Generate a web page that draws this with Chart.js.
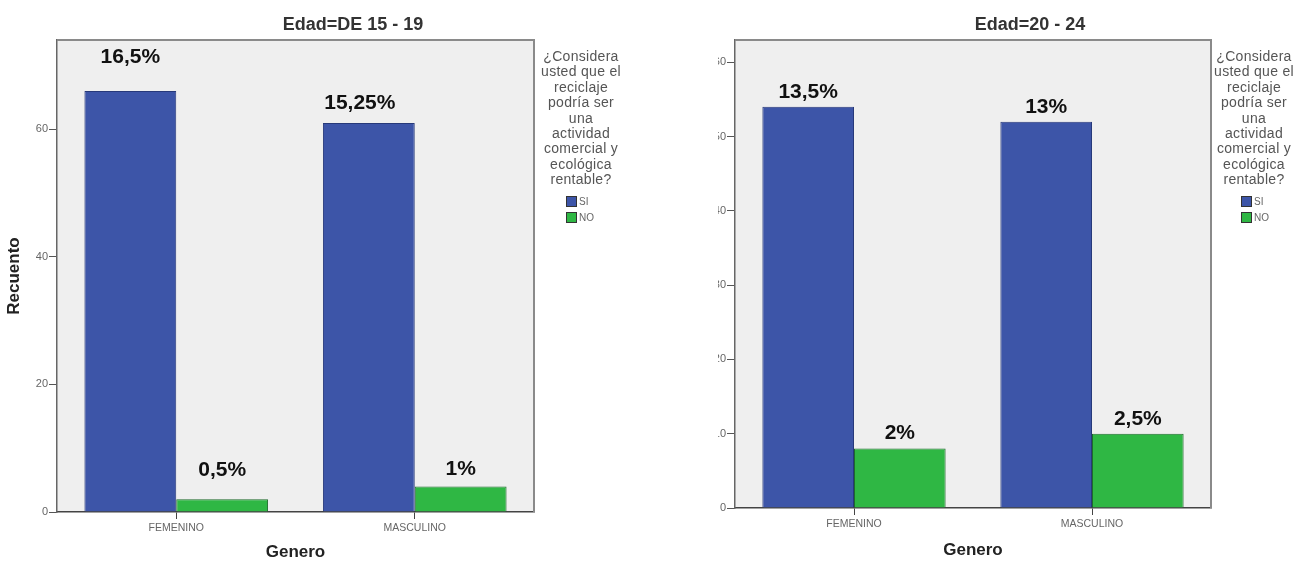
<!DOCTYPE html>
<html>
<head>
<meta charset="utf-8">
<script src="https://cdn.jsdelivr.net/npm/chart.js"></script>
<style>
html, body { margin: 0; padding: 0; background: #fff; width: 1299px; height: 561px; overflow: hidden; font-family: "Liberation Sans", Arial, sans-serif; }
.wrap { position: absolute; top: 0; height: 561px; overflow: hidden; }
.legend { position: absolute; top: 49px; width: 110px; text-align: center; font-size: 14px; line-height: 15.4px; color: #555; letter-spacing: 0.3px; }
.legend .items { margin-top: 6px; text-align: left; }
.legend .item { font-size: 10px; line-height: 16px; height: 16px; display: flex; align-items: center; color: #666; letter-spacing: 0; }
.legend .sw { display: inline-block; width: 9px; height: 9px; margin-right: 2px; border: 1px solid #333; }
</style>
</head>
<body>
<div class="wrap" style="left:0;width:706px;"><canvas id="edad15" width="706" height="561"></canvas></div>
<div class="wrap" style="left:718px;width:581px;"><canvas id="edad20" width="648" height="561" style="position:relative;left:-12px;"></canvas></div>
<div class="legend" id="leg15" style="left:526px;"></div>
<div class="legend" id="leg20" style="left:1199px;"></div>

<script>
// --- Data ---
const categories = ['FEMENINO', 'MASCULINO'];
const seriesNames = ['SI', 'NO'];
const legendTitle = ['¿Considera', 'usted que el', 'reciclaje', 'podría ser', 'una', 'actividad', 'comercial y', 'ecológica', 'rentable?'];

const siEdad15 = [66, 61];
const noEdad15 = [2, 4];
const pctEdad15 = [['16,5%', '15,25%'], ['0,5%', '1%']];
const ticksEdad15 = [0, 20, 40, 60];

const siEdad20 = [54, 52];
const noEdad20 = [8, 10];
const pctEdad20 = [['13,5%', '13%'], ['2%', '2,5%']];
const ticksEdad20 = [0, 10, 20, 30, 40, 50, 60];

const BLUE = '#3d55a8';
const GREEN = '#2fb744';

Chart.defaults.font.family = '"Liberation Sans", Arial, sans-serif';

// plot background + top/right frame
const plotFrame = {
    id: 'plotFrame',
    beforeDraw(chart) {
        const { ctx, chartArea: a } = chart;
        ctx.save();
        ctx.fillStyle = '#efefef';
        ctx.fillRect(a.left, a.top, a.width, a.height);
        ctx.restore();
    },
    afterDatasetsDraw(chart) {
        const { ctx, chartArea: a } = chart;
        ctx.save();
        ctx.strokeStyle = '#8a8a8a';
        ctx.lineWidth = 2;
        ctx.beginPath();
        ctx.moveTo(a.left, a.top);
        ctx.lineTo(a.right, a.top);
        ctx.lineTo(a.right, a.bottom);
        ctx.stroke();
        ctx.restore();
    }
};

// percentage labels above the bars
const barLabels = {
    id: 'barLabels',
    afterDatasetsDraw(chart, args, opts) {
        const ctx = chart.ctx;
        ctx.save();
        ctx.font = 'bold 21px "Liberation Sans", Arial, sans-serif';
        ctx.fillStyle = '#111';
        ctx.textAlign = 'center';
        ctx.textBaseline = 'middle';
        chart.data.datasets.forEach((ds, i) => {
            chart.getDatasetMeta(i).data.forEach((bar, j) => {
                const n = (opts.nudge && opts.nudge[i][j]) || [0, 0];
                ctx.fillText(opts.labels[i][j], bar.x + n[0], bar.y - 15 + n[1]);
            });
        });
        ctx.restore();
    }
};

function makeChart(id, title, si, no, pct, tickVals, yMax, yWidth, xHeight, rightSpace, showYTitle, nudge, genBottom) {
    return new Chart(document.getElementById(id), {
        type: 'bar',
        data: {
            labels: categories,
            datasets: [
                { label: seriesNames[0], data: si, backgroundColor: BLUE, borderColor: '#27397a', borderWidth: 1 },
                { label: seriesNames[1], data: no, backgroundColor: GREEN, borderColor: '#1f6b2c', borderWidth: 1 }
            ]
        },
        options: {
            responsive: false,
            animation: false,
            datasets: { bar: { categoryPercentage: 0.77, barPercentage: 1 } },
            plugins: {
                legend: { display: false },
                tooltip: { enabled: false },
                title: {
                    display: true, text: title, color: '#333',
                    font: { size: 18, weight: 'bold', lineHeight: 1.2 },
                    padding: { top: 14, bottom: 4.4 }
                },
                barLabels: { labels: pct, nudge: nudge }
            },
            scales: {
                x: {
                    afterFit: s => { s.height = xHeight; },
                    grid: { drawOnChartArea: false, offset: false, tickLength: 7, color: '#444' },
                    border: { color: '#444', width: 1.5 },
                    ticks: { color: '#666', font: { size: 10.5 }, padding: 3 },
                    title: {
                        display: true, text: 'Genero', color: '#222',
                        font: { size: 17, weight: 'bold', lineHeight: 1 },
                        padding: { top: 0, bottom: genBottom }
                    }
                },
                y: {
                    min: 0, max: yMax,
                    afterBuildTicks: s => { s.ticks = tickVals.map(v => ({ value: v })); },
                    afterFit: s => { s.width = yWidth; },
                    grid: { drawOnChartArea: false, tickLength: 8, color: '#555' },
                    border: { color: '#666', width: 1.5 },
                    ticks: { color: '#666', font: { size: 11 }, padding: 1 },
                    title: {
                        display: showYTitle, text: 'Recuento', color: '#222',
                        font: { size: 17, weight: 'bold', lineHeight: 1 },
                        padding: { top: 6 }
                    }
                },
                // empty space on the right for the legend block
                side: {
                    position: 'right',
                    afterFit: s => { s.width = rightSpace; },
                    grid: { display: false, drawTicks: false },
                    border: { display: false },
                    ticks: { display: false }
                }
            }
        },
        plugins: [plotFrame, barLabels]
    });
}

makeChart('edad15', 'Edad=DE 15 - 19', siEdad15, noEdad15, pctEdad15, ticksEdad15, 74, 57, 49, 172, true,
    [[[0, -19], [-9, -5]], [[0, -14], [0, -2]]], 0);
makeChart('edad20', 'Edad=20 - 24', siEdad20, noEdad20, pctEdad20, ticksEdad20, 63, 29, 53, 143, false,
    null, 2.5);

// SPSS-style legend block
function buildLegend(elId, itemIndent) {
    const el = document.getElementById(elId);
    el.innerHTML = legendTitle.map(t => `<div>${t}</div>`).join('') +
        '<div class="items">' +
        seriesNames.map((s, i) => `<div class="item" style="padding-left:${itemIndent}px"><span class="sw" style="background:${i ? GREEN : BLUE}"></span>${s}</div>`).join('') +
        '</div>';
}
buildLegend('leg15', 40);
buildLegend('leg20', 42);
</script>
</body>
</html>
